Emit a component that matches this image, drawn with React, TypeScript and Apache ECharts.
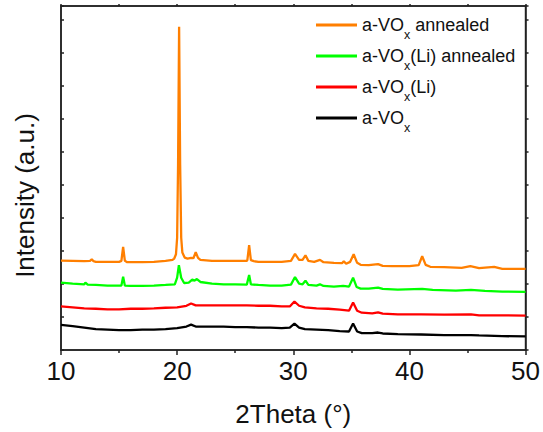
import React, { useEffect, useRef } from "react";
import * as echarts from "echarts";

const seriesNames = ["a-VOx annealed", "a-VOx(Li) annealed", "a-VOx(Li)", "a-VOx"];
const seriesColors = ["#FF7F00", "#00FF00", "#FF0000", "#000000"];

const xTicks = [10, 20, 30, 40, 50];

// a-VOx annealed (orange)
const xOrange = [10, 11, 12, 12.5, 12.65, 12.8, 13, 14, 15, 15.2, 15.35, 15.5, 15.7, 16, 17, 18, 19, 19.6, 19.75, 19.9, 20.0, 20.08, 20.17, 20.26, 20.35, 20.45, 20.65, 20.9, 21.2, 21.4, 21.6, 21.8, 22, 23, 24, 25, 26, 26.05, 26.2, 26.35, 26.6, 27, 28, 29, 29.8, 30.15, 30.5, 30.8, 31.05, 31.3, 31.8, 32.3, 32.6, 33.5, 34.2, 34.35, 34.55, 34.9, 35.2, 35.5, 35.8, 36.5, 37.3, 37.7, 38.5, 40, 40.8, 41.1, 41.4, 41.8, 43, 44.5, 45.25, 46, 47.3, 48, 50];
const yOrange = [2.71, 2.70, 2.69, 2.70, 2.75, 2.69, 2.67, 2.67, 2.67, 2.70, 3.12, 2.70, 2.66, 2.66, 2.66, 2.67, 2.70, 2.73, 2.77, 2.9, 3.4, 5.6, 9.79, 5.6, 3.4, 2.95, 2.8, 2.77, 2.79, 2.78, 2.96, 2.79, 2.73, 2.70, 2.70, 2.70, 2.70, 2.73, 3.18, 2.72, 2.69, 2.67, 2.67, 2.67, 2.70, 2.91, 2.73, 2.73, 2.87, 2.70, 2.67, 2.73, 2.66, 2.64, 2.63, 2.69, 2.61, 2.67, 2.90, 2.64, 2.58, 2.57, 2.60, 2.55, 2.54, 2.54, 2.57, 2.84, 2.58, 2.52, 2.51, 2.49, 2.54, 2.48, 2.52, 2.46, 2.46];

// a-VOx(Li) annealed (green)
const xGreen = [10, 11, 12, 12.1, 12.3, 13, 14, 15.2, 15.35, 15.5, 16, 17, 18, 19, 19.8, 20.0, 20.15, 20.35, 20.6, 21.0, 21.3, 21.5, 21.7, 22, 23, 24, 25, 26, 26.2, 26.35, 27, 28, 29, 29.8, 30.15, 30.5, 30.8, 31.05, 31.3, 32, 32.3, 32.6, 33.5, 34.3, 34.8, 35.15, 35.45, 35.8, 36.5, 37.3, 37.7, 39, 41.1, 42, 44, 45.3, 46.5, 48, 50];
const yGreen = [2.04, 2.01, 1.99, 2.04, 1.98, 1.97, 1.95, 1.95, 2.22, 1.95, 1.94, 1.94, 1.95, 1.97, 1.99, 2.19, 2.57, 2.19, 2.03, 2.04, 2.13, 2.10, 2.15, 2.06, 2.01, 1.99, 1.99, 1.98, 2.27, 1.99, 1.97, 1.95, 1.95, 1.98, 2.21, 2.01, 1.99, 2.10, 1.97, 1.95, 1.99, 1.94, 1.92, 1.94, 1.92, 2.19, 1.91, 1.86, 1.86, 1.89, 1.85, 1.83, 1.85, 1.82, 1.80, 1.82, 1.79, 1.77, 1.76];

// a-VOx(Li) (red)
const xRed = [10, 11, 12, 13, 14, 15, 16, 17, 18, 19, 20, 20.8, 21.2, 21.6, 22, 23, 24, 25, 26, 27, 28, 29, 29.7, 30.1, 30.5, 31, 32, 33, 34, 34.8, 35.15, 35.5, 35.9, 36.8, 37.3, 37.7, 39, 41, 43, 45.3, 46, 48, 50];
const yRed = [1.32, 1.29, 1.26, 1.25, 1.23, 1.23, 1.25, 1.25, 1.26, 1.28, 1.29, 1.34, 1.41, 1.35, 1.35, 1.35, 1.35, 1.35, 1.35, 1.34, 1.34, 1.32, 1.32, 1.47, 1.34, 1.29, 1.26, 1.25, 1.22, 1.19, 1.44, 1.19, 1.13, 1.11, 1.14, 1.10, 1.08, 1.08, 1.07, 1.08, 1.05, 1.05, 1.04];

// a-VOx (black)
const xBlack = [10, 11, 12, 13, 14, 15, 16, 17, 18, 19, 20, 20.8, 21.2, 21.6, 22, 23, 24, 25, 26, 27, 28, 29, 29.7, 30.1, 30.5, 31, 32, 33, 34, 34.8, 35.15, 35.5, 35.9, 36.8, 37.3, 37.7, 39, 41, 43, 45.3, 46, 48, 50];
const yBlack = [0.76, 0.72, 0.68, 0.63, 0.62, 0.60, 0.60, 0.62, 0.62, 0.63, 0.66, 0.71, 0.77, 0.71, 0.71, 0.71, 0.71, 0.69, 0.69, 0.68, 0.68, 0.66, 0.68, 0.80, 0.68, 0.63, 0.62, 0.60, 0.57, 0.56, 0.80, 0.56, 0.51, 0.51, 0.53, 0.50, 0.48, 0.47, 0.45, 0.45, 0.44, 0.42, 0.41];

const seriesX = [xOrange, xGreen, xRed, xBlack];
const seriesY = [yOrange, yGreen, yRed, yBlack];

const FONT = "'Liberation Sans', Arial, sans-serif";
const AXIS_COLOR = "#222";

export default function App() {
  const ref = useRef<HTMLDivElement>(null);

  useEffect(() => {
    document.body.style.margin = "0";
    if (!ref.current) return;
    const chart = echarts.init(ref.current, undefined, { renderer: "svg" });

    const xMin = xTicks[0];
    const xMax = xTicks[xTicks.length - 1];
    const yMax = 10.42;

    const baseX = {
      type: "value" as const,
      min: xMin,
      max: xMax,
      interval: 10,
      splitLine: { show: false },
      axisLine: { show: true, onZero: false, lineStyle: { color: AXIS_COLOR, width: 1.5 } },
      minorSplitLine: { show: false },
    };
    const baseY = {
      type: "value" as const,
      min: 0,
      max: yMax,
      interval: 1,
      splitLine: { show: false },
      axisLabel: { show: false },
      axisLine: { show: true, onZero: false, lineStyle: { color: AXIS_COLOR, width: 1.5 } },
    };

    chart.setOption({
      animation: false,
      backgroundColor: "#ffffff",
      grid: {
        left: 61, right: 16, top: 6, bottom: 79, containLabel: false,
        show: true, borderColor: AXIS_COLOR, borderWidth: 1.5, backgroundColor: "rgba(0,0,0,0)",
      },
      legend: {
        data: seriesNames,
        orient: "vertical",
        left: 311,
        top: 4,
        itemWidth: 41,
        itemHeight: 3,
        itemGap: -1,
        icon: "rect",
        itemStyle: { borderWidth: 0 },
        textStyle: {
          fontFamily: FONT,
          fontSize: 18,
          color: "#111",
          lineHeight: 30,
          rich: {
            sub: { fontFamily: FONT, fontSize: 12.5, lineHeight: 12, padding: [19, 0, 0, 0], color: "#111" },
          },
        },
        formatter: (name: string) => name.replace("VOx", "VO{sub|x}"),
      },
      xAxis: [
        {
          ...baseX,
          position: "bottom",
          name: "2Theta (°)",
          nameLocation: "middle",
          nameGap: 51,
          nameTextStyle: { fontFamily: FONT, fontSize: 26, color: "#111" },
          axisTick: { show: true, inside: false, length: 5, lineStyle: { color: AXIS_COLOR, width: 1.5 } },
          minorTick: { show: true, splitNumber: 2, length: 3, lineStyle: { color: AXIS_COLOR, width: 1.5 } },
          axisLabel: { show: true, fontFamily: FONT, fontSize: 26, color: "#111", margin: 8 },
        },
        {
          ...baseX,
          position: "top",
          axisTick: { show: true, inside: false, length: 2, lineStyle: { color: AXIS_COLOR, width: 1.5 } },
          minorTick: { show: true, splitNumber: 2, length: 2, lineStyle: { color: AXIS_COLOR, width: 1.5 } },
          axisLabel: { show: false },
        },
      ],
      yAxis: [
        {
          ...baseY,
          position: "left",
          name: "Intensity (a.u.)",
          nameLocation: "middle",
          nameGap: 23,
          nameTextStyle: { fontFamily: FONT, fontSize: 26, color: "#111", padding: [0, 35, 0, 0] },
          axisTick: { show: true, inside: true, length: 3, lineStyle: { color: AXIS_COLOR, width: 1.5 } },
        },
        {
          ...baseY,
          position: "right",
          axisTick: { show: true, inside: false, length: 3, lineStyle: { color: AXIS_COLOR, width: 1.5 } },
        },
      ],
      series: seriesNames.map((name, i) => ({
        name,
        type: "line",
        xAxisIndex: 0,
        yAxisIndex: 0,
        symbol: "none",
        showSymbol: false,
        z: 10 - i,
        color: seriesColors[i],
        lineStyle: { color: seriesColors[i], width: 2.3 },
        data: seriesX[i].map((x, j) => [x, seriesY[i][j]]),
      })),
    });

    return () => chart.dispose();
  }, []);

  return <div ref={ref} style={{ width: 543, height: 432 }} />;
}
